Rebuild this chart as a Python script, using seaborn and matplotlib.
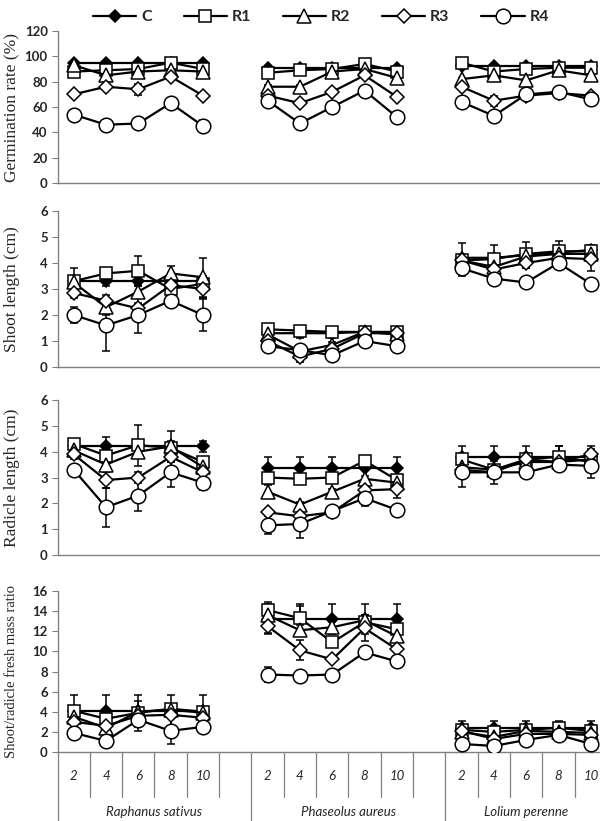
"""Seedling response panels: germination, shoot/radicle length and mass ratio."""
import matplotlib
matplotlib.use("Agg")
import matplotlib.pyplot as plt
import seaborn as sns
from matplotlib.lines import Line2D

SPECIES = ["Raphanus sativus", "Phaseolus aureus", "Lolium perenne"]
DAYS = ["2", "4", "6", "8", "10"]
SERIES = ["C", "R1", "R2", "R3", "R4"]

# one row per series (C, R1..R4); 15 values = 3 species x 5 days
GERM_MEAN = [
    [95, 95, 95, 95, 95, 91, 91, 91, 91, 91, 92, 92, 92, 92, 92],
    [88, 89, 90, 95, 90, 87, 89, 90, 94, 88, 95, 88, 90, 91, 91],
    [93, 85, 88, 89, 88, 76, 76, 88, 90, 83, 82, 85, 81, 89, 85],
    [70, 76, 74, 84, 69, 69, 63, 72, 85, 68, 76, 65, 69, 71, 69],
    [54, 46, 47, 63, 45, 65, 47, 60, 73, 52, 64, 53, 70, 72, 66],
]
GERM_ERR = [
    [1, 1, 1, 1, 1, 1, 2, 2, 1, 1, 1, 1, 1, 1, 1],
    [4, 1, 1, 2, 1, 1, 1, 1, 1, 1, 1, 1, 1, 1, 1],
    [1, 2, 2, 1, 1, 1, 1, 1, 1, 1, 1, 1, 1, 1, 1],
    [1, 2, 4.5, 2, 1, 1, 1, 1, 1, 1, 1, 4, 1, 1, 1],
    [1, 1, 1, 1, 5, 1, 1, 1, 1, 1, 1, 1, 1, 1, 1],
]

SHOOT_MEAN = [
    [3.3, 3.3, 3.3, 3.3, 3.3, 1.3, 1.3, 1.3, 1.35, 1.3, 4.2, 4.2, 4.3, 4.4, 4.5],
    [3.3, 3.6, 3.7, 3.0, 3.2, 1.45, 1.4, 1.35, 1.35, 1.35, 4.1, 4.15, 4.35, 4.45, 4.45],
    [3.25, 2.3, 2.9, 3.6, 3.45, 1.25, 0.6, 0.85, 1.35, 1.25, 4.1, 3.85, 4.25, 4.35, 4.35],
    [2.85, 2.55, 2.25, 3.15, 3.0, 1.0, 0.4, 0.7, 1.3, 1.3, 4.1, 3.75, 4.0, 4.2, 4.15],
    [2.0, 1.6, 2.0, 2.55, 2.0, 0.8, 0.65, 0.45, 1.0, 0.8, 3.8, 3.4, 3.25, 4.0, 3.2],
]
SHOOT_ERR = [
    [0.2, 0.2, 0.2, 0.2, 0.2, 0.2, 0.2, 0.2, 0.2, 0.2, 0.55, 0.5, 0.5, 0.45, 0.2],
    [0.5, 0.2, 0.55, 0.2, 0.2, 0.1, 0.1, 0.1, 0.1, 0.1, 0.2, 0.2, 0.2, 0.2, 0.2],
    [0.2, 0.3, 0.2, 0.3, 0.75, 0.1, 0.1, 0.1, 0.1, 0.1, 0.2, 0.2, 0.2, 0.2, 0.2],
    [0.2, 0.2, 0.2, 0.2, 0.35, 0.1, 0.2, 0.1, 0.25, 0.1, 0.2, 0.2, 0.2, 0.2, 0.45],
    [0.3, 1.0, 0.7, 0.25, 0.6, 0.1, 0.1, 0.1, 0.1, 0.1, 0.3, 0.25, 0.1, 0.25, 0.1],
]

RADICLE_MEAN = [
    [4.2, 4.2, 4.2, 4.2, 4.2, 3.35, 3.35, 3.35, 3.35, 3.35, 3.8, 3.8, 3.8, 3.8, 3.8],
    [4.3, 3.85, 4.25, 4.15, 3.6, 3.0, 2.95, 3.0, 3.65, 2.9, 3.7, 3.3, 3.7, 3.8, 3.6],
    [4.05, 3.5, 4.0, 4.2, 3.4, 2.45, 1.95, 2.45, 2.95, 2.8, 3.4, 3.3, 3.6, 3.6, 3.7],
    [3.9, 2.9, 3.0, 3.8, 3.2, 1.65, 1.5, 1.65, 2.5, 2.55, 3.3, 3.2, 3.7, 3.6, 3.9],
    [3.3, 1.85, 2.3, 3.2, 2.8, 1.15, 1.2, 1.7, 2.2, 1.75, 3.2, 3.2, 3.2, 3.5, 3.45],
]
RADICLE_ERR = [
    [0.2, 0.35, 0.2, 0.2, 0.2, 0.45, 0.45, 0.45, 0.45, 0.45, 0.4, 0.4, 0.4, 0.4, 0.4],
    [0.2, 0.2, 0.8, 0.2, 0.2, 0.1, 0.1, 0.1, 0.1, 0.1, 0.2, 0.2, 0.2, 0.4, 0.2],
    [0.2, 0.2, 0.2, 0.6, 0.2, 0.25, 0.1, 0.1, 0.1, 0.1, 0.2, 0.2, 0.2, 0.2, 0.2],
    [0.2, 0.3, 0.2, 0.2, 0.2, 0.1, 0.1, 0.1, 0.1, 0.35, 0.2, 0.2, 0.2, 0.2, 0.2],
    [0.2, 0.75, 0.6, 0.55, 0.3, 0.35, 0.55, 0.2, 0.3, 0.1, 0.55, 0.45, 0.2, 0.2, 0.45],
]

RATIO_MEAN = [
    [4.1, 4.1, 4.1, 4.1, 4.1, 13.2, 13.2, 13.2, 13.2, 13.2, 2.4, 2.4, 2.4, 2.4, 2.4],
    [4.1, 3.3, 3.9, 4.3, 4.0, 14.1, 13.3, 10.9, 12.9, 12.2, 2.2, 2.0, 2.2, 2.4, 2.1],
    [3.5, 2.4, 4.0, 4.2, 3.9, 13.6, 12.1, 12.4, 13.1, 11.5, 2.0, 1.5, 2.1, 2.0, 1.9],
    [3.0, 2.6, 3.6, 3.7, 3.4, 12.5, 10.1, 9.2, 12.3, 10.2, 2.1, 1.3, 1.8, 1.8, 1.7],
    [1.9, 1.1, 3.2, 2.1, 2.5, 7.7, 7.6, 7.7, 9.9, 9.0, 0.8, 0.6, 1.2, 1.7, 0.8],
]
RATIO_ERR = [
    [1.6, 1.6, 1.6, 1.6, 1.6, 1.5, 1.5, 1.5, 1.5, 1.5, 0.7, 0.7, 0.7, 0.7, 0.7],
    [0.3, 0.3, 0.3, 0.3, 0.3, 0.8, 1.2, 0.5, 0.5, 0.5, 0.2, 0.2, 0.2, 0.2, 0.2],
    [0.6, 0.3, 0.3, 0.3, 0.3, 0.5, 0.5, 0.5, 0.5, 0.5, 0.2, 0.2, 0.2, 0.2, 0.2],
    [0.3, 0.3, 1.5, 0.3, 0.3, 0.7, 1.0, 0.3, 1.3, 0.3, 0.2, 0.2, 0.2, 0.2, 0.2],
    [0.3, 0.2, 0.3, 1.3, 0.3, 0.7, 0.2, 0.2, 0.2, 0.2, 0.2, 0.2, 0.4, 0.2, 0.2],
]

STYLES = [
    dict(marker="D", markersize=6, markerfacecolor="black"),
    dict(marker="s", markersize=9, markerfacecolor="white"),
    dict(marker="^", markersize=9.5, markerfacecolor="white"),
    dict(marker="D", markersize=7, markerfacecolor="white"),
    dict(marker="o", markersize=10.5, markerfacecolor="white"),
]

sns.set_style("white")
plt.rcParams["font.family"] = ["Lato", "DejaVu Sans"]

GRAY = "#808080"
W, H = 600, 821
LEFT, RIGHT = 57.5, 607.0


def draw_panel(ax, means, errs, ymax, step, ylabel, label_size):
    for s in range(len(SERIES)):
        for g in range(len(SPECIES)):
            xs = [g * 6 + i for i in range(5)]
            ys = means[s][g * 5:(g + 1) * 5]
            es = errs[s][g * 5:(g + 1) * 5]
            ax.errorbar(xs, ys, yerr=es, fmt="none", ecolor="black", elinewidth=1.1,
                        capsize=3.2, capthick=1.1, zorder=2)
            sns.lineplot(x=xs, y=ys, ax=ax, color="black", linewidth=1.6, estimator=None,
                         markeredgecolor="black", markeredgewidth=1.1, zorder=3 + s,
                         legend=False, **STYLES[s])
    ax.set_xlim(-0.5, 16.5)
    ax.set_ylim(0, ymax)
    ax.set_yticks(range(0, ymax + 1, step))
    ax.set_xticks([])
    ax.set_xlabel("")
    ax.set_ylabel("")
    for lab in ax.get_yticklabels():
        lab.set_fontweight("bold")
    ax.tick_params(axis="y", left=True, length=4, width=0.8, color=GRAY, labelsize=9.5, pad=3)
    for side in ("top", "right"):
        ax.spines[side].set_visible(False)
    for side in ("left", "bottom"):
        ax.spines[side].set_color(GRAY)
        ax.spines[side].set_linewidth(1.0)
    pos = ax.get_position()
    ax.figure.text(12 / W, pos.y0 + pos.height / 2, ylabel, rotation=90, ha="center", va="center",
                   fontfamily="Liberation Serif", fontsize=label_size)


fig = plt.figure(figsize=(W / 100, H / 100), dpi=100)
panels = [
    (31, 183, GERM_MEAN, GERM_ERR, 120, 20, "Germination rate (%)", 12.5),
    (211, 367, SHOOT_MEAN, SHOOT_ERR, 6, 1, "Shoot length (cm)", 12.5),
    (400, 555, RADICLE_MEAN, RADICLE_ERR, 6, 1, "Radicle length (cm)", 12.5),
    (591, 752, RATIO_MEAN, RATIO_ERR, 16, 2, "Shoot/radicle fresh mass ratio", 10.5),
]
axes = []
for top, bottom, means, errs, ymax, step, ylabel, size in panels:
    ax = fig.add_axes([LEFT / W, 1 - bottom / H, (RIGHT - LEFT) / W, (bottom - top) / H])
    draw_panel(ax, means, errs, ymax, step, ylabel, size)
    axes.append(ax)

# two-level category axis under the last panel
ax = axes[-1]
trans = ax.get_xaxis_transform()
ax_h = 752 - 591
short_y = -(797 - 752) / ax_h
long_y = -(H - 752) / ax_h
for k in range(18):
    y_end = long_y if k in (0, 6, 12, 17) else short_y
    ax.plot([k - 0.5, k - 0.5], [0, y_end], transform=trans, color=GRAY, lw=0.9,
            clip_on=False)
for g, name in enumerate(SPECIES):
    for i, day in enumerate(DAYS):
        ax.text(g * 6 + i, -(776 - 752) / ax_h, day, transform=trans, ha="center",
                va="center", style="italic", fontsize=9.5)
    start = g * 6 - 0.5
    end = min(start + 6, 16.5)
    ax.text((start + end) / 2, -(812 - 752) / ax_h, name, transform=trans, ha="center",
            va="center", style="italic", fontsize=9.5)

handles = [Line2D([0], [0], color="black", linewidth=1.6, markeredgecolor="black",
                  markeredgewidth=1.1, **STYLES[s]) for s in range(len(SERIES))]
fig.legend(handles, SERIES, loc="upper center", bbox_to_anchor=(0.535, 1.005), ncol=5,
           frameon=False, handlelength=2.7, columnspacing=2.0, handletextpad=0.3,
           prop={"weight": "bold", "size": 11.5})

fig.savefig("out.png", dpi=100)
